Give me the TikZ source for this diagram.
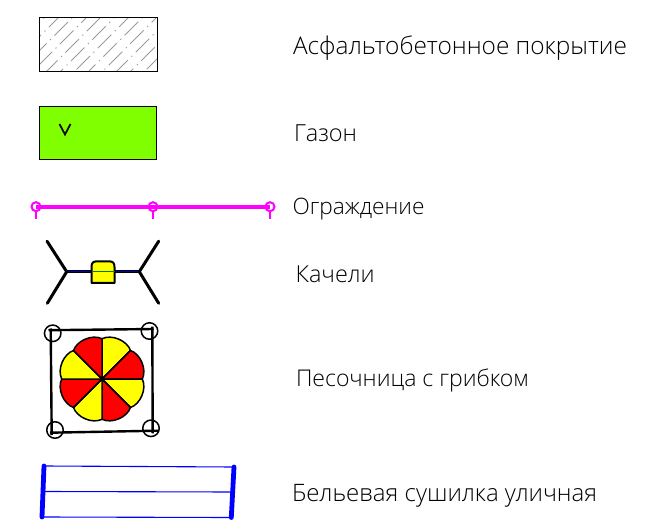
\documentclass[tikz,border=0pt]{standalone}
\usepackage{fontspec}
\setmainfont{Open Sans}[UprightFont=* Light,BoldFont=*]
\definecolor{grass}{RGB}{128,255,0}
\definecolor{fencecol}{RGB}{255,0,255}
\definecolor{seatyellow}{RGB}{255,255,0}
\definecolor{hatchgray}{RGB}{155,155,155}
\tikzset{
  lbl/.style={anchor=base west,inner sep=0pt,outer sep=0pt,text=black},
  swatch/.style={draw=black,line width=1pt},
  fenceline/.style={draw=fencecol,line width=4pt},
  fencepost/.style={circle,draw=fencecol,line width=2pt,minimum size=9pt,inner sep=0pt},
  fencetick/.style={draw=fencecol,line width=2pt},
  heavy/.style={draw=black,line width=3pt,line cap=round},
  frameline/.style={draw=black,line width=2.4pt},
  cornerpost/.style={circle,draw=black,line width=1.5pt,minimum size=16.5pt,inner sep=0pt},
  petal/.style={draw=black,line width=1.5pt,line join=round},
  drybar/.style={draw=blue,line width=4.8pt,line cap=round},
  dryline/.style={draw=blue,line width=1.1pt},
  hatchline/.style={draw=hatchgray,line width=1pt,dash pattern=on 19pt off 5pt on 1.2pt off 5pt}
}
\newcommand{\lab}[2]{\resizebox{#1pt}{!}{\fontsize{25pt}{30pt}\selectfont #2}}
\begin{document}
\begin{tikzpicture}[x=1pt,y=-1pt]
\useasboundingbox (0,0) rectangle (653,529);
% asphalt
\node[rectangle,minimum width=118pt,minimum height=53.5pt,inner sep=0pt] (asph) at (98,44.7) {};
\begin{scope}
\clip (asph.north west) rectangle (asph.south east);
\foreach \d in {0,14,...,190}
  \draw[hatchline,dash phase=\d*1.3pt] (\d+30,18) -- (\d-30,78);
\end{scope}
\node[swatch,rectangle,minimum width=118pt,minimum height=53.5pt,inner sep=0pt] at (asph) {};
\node[lbl] (t1) at (293,55) {\lab{334}{Асфальтобетонное покрытие}};
% lawn
\node[swatch,fill=grass,rectangle,minimum width=117.5pt,minimum height=53.5pt,inner sep=0pt] (lawn) at (97.8,132.8) {};
\coordinate (va) at (59.5,124);
\coordinate (vb) at (65,134.5);
\coordinate (vc) at (70.5,124);
\draw[line width=1.7pt,black] (va) -- (vb) -- (vc);
\node[lbl] (t2) at (294,141.7) {\lab{63}{Газон}};
% fence
\node[fencepost] (f1) at (36,206.7) {};
\node[fencepost] (f2) at (153,206.7) {};
\node[fencepost] (f3) at (270,206.7) {};
\draw[fenceline] (f1.center) -- (f3.center);
\foreach \n/\x in {f1/36,f2/153,f3/270}{
  \coordinate (\n e) at (\x,219);
  \draw[fencetick] (\n.south) -- (\n e);
}
\node[lbl] (t3) at (292.5,214.3) {\lab{132}{Ограждение}};
% swing
\coordinate (sl) at (66.7,271.7);
\coordinate (sr) at (139.3,271.7);
\coordinate (slt) at (47,241.2);
\coordinate (slb) at (47.3,303.3);
\coordinate (srt) at (158.7,241.2);
\coordinate (srb) at (158.7,303.3);
\draw[draw=black,line width=2.6pt] (sl) -- (sr);
\draw[draw=blue!70!black,line width=1.1pt] (sl) -- (sr);
\draw[heavy] (slt) -- (sl) -- (slb);
\draw[heavy] (srt) -- (sr) -- (srb);
\draw[black,line width=2pt,fill=seatyellow,line join=round] (91.5,283) -- (91.5,267) .. controls (91.5,263) and (93,261.3) .. (97,261.3) -- (109,261.3) .. controls (113,261.3) and (114.5,263) .. (114.5,267) -- (114.5,283) -- cycle;
\draw[draw=black!50!green,line width=1.2pt] (91.5,271.7) -- (114.5,271.7);
\node[lbl] (t4) at (295.7,282.7) {\lab{79}{Качели}};
% sandbox
\coordinate (cf) at (102,379);
\begin{scope}[shift={(cf)}]
\foreach \i/\c in {0/seatyellow,1/red,2/seatyellow,3/red,4/seatyellow,5/red,6/seatyellow,7/red}{
  \pgfmathsetmacro{\aa}{-90+45*\i}
  \pgfmathsetmacro{\bb}{-45+45*\i}
  \pgfmathsetmacro{\cca}{\aa+12}
  \pgfmathsetmacro{\ccb}{\bb-12}
  \draw[petal,fill=\c] (0,0) -- (\aa:40.3) .. controls (\cca:46) and (\ccb:46) .. (\bb:40.3) -- cycle;
}
\end{scope}
\coordinate (bTLa) at (48.5,330.2);
\coordinate (bTRa) at (153.5,329);
\coordinate (bTLb) at (50.7,328.5);
\coordinate (bBLb) at (51.7,435);
\coordinate (bBLa) at (50,432.7);
\coordinate (bBRa) at (158,430.7);
\coordinate (bTRb) at (152.3,326.7);
\coordinate (bBRb) at (152.7,433.3);
\draw[frameline] (bTLa) -- (bTRa);
\draw[frameline] (bTLb) -- (bBLb);
\draw[frameline] (bBLa) -- (bBRa);
\draw[frameline] (bTRb) -- (bBRb);
\node[cornerpost] (c1) at (52.7,333.3) {};
\node[cornerpost] (c2) at (149.5,331) {};
\node[cornerpost] (c3) at (55,430) {};
\node[cornerpost] (c4) at (151,428.3) {};
\node[lbl] (t5) at (296,386) {\lab{233}{Песочница с грибком}};
% drier
\coordinate (dl1) at (44,466);
\coordinate (dl2) at (43,491.5);
\coordinate (dl3) at (42,517);
\coordinate (dr1) at (234,467);
\coordinate (dr2) at (232.5,492);
\coordinate (dr3) at (231.3,517.5);
\draw[dryline] (dl1) -- (dr1);
\draw[dryline] (dl2) -- (dr2);
\draw[dryline] (dl3) -- (dr3);
\draw[drybar] (dl1) -- (dl3);
\draw[drybar] (dr1) -- (dr3);
\node[lbl] (t6) at (292,501.7) {\lab{305}{Бельевая сушилка уличная}};
\end{tikzpicture}
\end{document}
